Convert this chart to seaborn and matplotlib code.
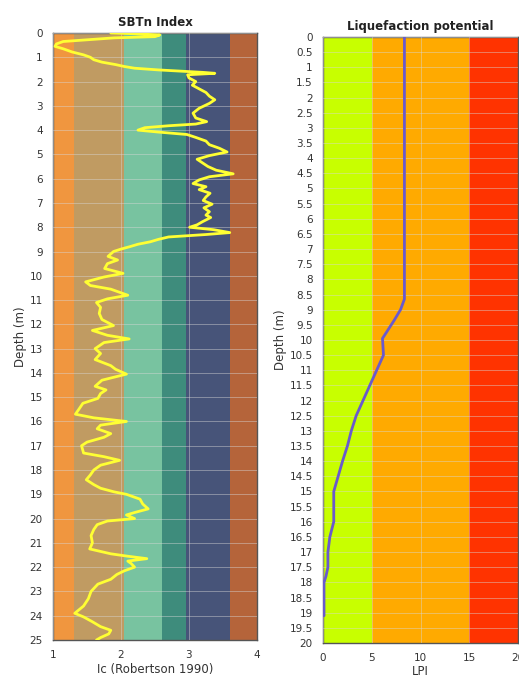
import numpy as np
import pandas as pd
import matplotlib
matplotlib.use("Agg")
import matplotlib.pyplot as plt
from matplotlib.ticker import MultipleLocator, FormatStrFormatter
import seaborn as sns

# SBTn index (Ic) profile
ic_depth = [0.0, 0.03, 0.08, 0.15, 0.2, 0.28, 0.35, 0.45, 0.55, 0.65, 0.78, 0.9, 1.0, 1.1, 1.2,
            1.3, 1.38, 1.45, 1.52, 1.58, 1.62, 1.66, 1.72, 1.85, 2.0, 2.15, 2.3, 2.45, 2.6, 2.75,
            2.9, 3.1, 3.3, 3.5, 3.65, 3.75, 3.82, 3.9, 4.0, 4.08, 4.18, 4.3, 4.45, 4.6, 4.75,
            4.9, 5.05, 5.2, 5.35, 5.5, 5.65, 5.8, 5.92, 6.05, 6.2, 6.33, 6.45, 6.6, 6.75, 6.9,
            7.05, 7.2, 7.36, 7.5, 7.6, 7.77, 7.9, 8.0, 8.1, 8.22, 8.3, 8.4, 8.5, 8.6, 8.7,
            8.8, 8.9, 9.0, 9.2, 9.35, 9.5, 9.7, 9.9, 10.05, 10.25, 10.4, 10.55, 10.8, 10.95, 11.1,
            11.3, 11.55, 11.8, 12.05, 12.25, 12.45, 12.6, 12.75, 13.0, 13.2, 13.45, 13.7, 13.85, 14.05, 14.3,
            14.55, 14.7, 14.85, 15.05, 15.25, 15.5, 15.7, 15.85, 16.0, 16.15, 16.3, 16.5, 16.65, 16.85, 17.0,
            17.3, 17.45, 17.6, 17.8, 18.0, 18.2, 18.4, 18.6, 18.75, 18.9, 19.0, 19.2, 19.4, 19.6, 19.75,
            19.85, 20.0, 20.1, 20.25, 20.45, 20.7, 21.0, 21.25, 21.45, 21.55, 21.65, 21.75, 21.85, 22.0, 22.15,
            22.3, 22.5, 22.7, 23.0, 23.3, 23.6, 23.9, 24.05, 24.25, 24.45, 24.6, 24.75, 24.9, 25.0]
ic_value = [1.85, 2.2, 2.57, 2.5, 1.9, 1.5, 1.15, 1.05, 1.03, 1.15, 1.28, 1.45, 1.55, 1.6, 1.72,
            1.92, 2.05, 2.2, 2.55, 2.95, 3.2, 3.38, 2.98, 3.0, 3.1, 3.05, 3.15, 3.25, 3.3, 3.38,
            3.3, 3.15, 3.06, 3.1, 3.26, 3.1, 2.7, 2.35, 2.25, 2.55, 2.97, 3.1, 3.25, 3.3, 3.45,
            3.56, 3.3, 3.12, 3.2, 3.28, 3.4, 3.65, 3.3, 3.15, 3.06, 3.25, 3.15, 3.31, 3.25, 3.21,
            3.34, 3.22, 3.3, 3.25, 3.32, 3.2, 3.12, 3.01, 3.36, 3.6, 3.25, 2.7, 2.55, 2.43, 2.25,
            2.13, 2.0, 1.89, 1.81, 1.95, 1.8, 1.76, 2.03, 1.75, 1.48, 1.55, 1.85, 2.1, 1.8, 1.64,
            1.7, 1.68, 1.72, 1.89, 1.58, 1.8, 2.12, 1.75, 1.62, 1.7, 1.62, 1.85, 1.92, 2.08, 1.72,
            1.62, 1.78, 1.7, 1.66, 1.44, 1.38, 1.33, 1.6, 2.08, 1.7, 1.65, 1.85, 1.75, 1.5, 1.42,
            1.45, 1.75, 1.98, 1.7, 1.6, 1.55, 1.49, 1.6, 1.7, 1.9, 2.08, 2.28, 2.32, 2.4, 2.2,
            2.08, 2.2, 1.8, 1.65, 1.6, 1.56, 1.58, 1.54, 1.85, 2.1, 2.38, 2.1, 2.15, 2.2, 2.05,
            1.94, 1.85, 1.66, 1.56, 1.52, 1.45, 1.32, 1.45, 1.58, 1.7, 1.85, 1.82, 1.7, 1.64]

# Liquefaction potential index profile
lpi_depth = [0.0, 8.65, 9.0, 9.35, 9.95, 10.5, 11.0, 11.5, 12.0, 12.5, 13.0, 13.5, 14.0, 14.5,
             15.0, 15.5, 16.0, 16.5, 17.0, 17.5, 17.8, 18.0, 19.0, 19.1]
lpi_value = [8.35, 8.35, 7.95, 7.3, 6.1, 6.2, 5.5, 4.8, 4.1, 3.4, 2.9, 2.5, 2.0, 1.55,
             1.1, 1.1, 1.1, 0.7, 0.5, 0.5, 0.3, 0.1, 0.1, 0.1]

# background zones
ic_bounds = [1.0, 1.31, 2.05, 2.60, 2.95, 3.60, 4.0]
ic_colors = ["#F0963F", "#C09B62", "#78C3A0", "#3E8C7C", "#475479", "#B5643A"]
lpi_bounds = [0, 5, 15, 20]
lpi_colors = ["#C8FF00", "#FFAA00", "#FF3300"]

sns.set_style("white")
plt.rcParams['font.family'] = ['DejaVu Sans']
text_col = "#333333"

fig = plt.figure(figsize=(5.19, 6.82), dpi=100)
ax1 = fig.add_axes([0.1021, 0.0616, 0.393, 0.89])
ax2 = fig.add_axes([0.6224, 0.0572, 0.3757, 0.8886])


def style_axis(ax):
    for s in ax.spines.values():
        s.set_color("#555555")
        s.set_linewidth(1.0)
    ax.tick_params(axis="both", which="both", direction="out", colors="#555555",
                   labelcolor=text_col, labelsize=7.5, length=4, width=0.9)
    ax.tick_params(axis="both", which="minor", length=2.5)
    ax.grid(True, which="major", color="#d8d8d8", linewidth=0.7, alpha=0.45)
    ax.set_axisbelow(False)


# left panel
for lo, hi, c in zip(ic_bounds[:-1], ic_bounds[1:], ic_colors):
    ax1.axvspan(lo, hi, color=c, lw=0, zorder=0)
sns.lineplot(x=ic_value, y=ic_depth, sort=False, estimator=None, color="#FFFF33",
             linewidth=2.0, ax=ax1, zorder=3)
ax1.set_xlim(1, 4)
ax1.set_ylim(25, 0)
ax1.xaxis.set_major_locator(MultipleLocator(1))
ax1.xaxis.set_minor_locator(MultipleLocator(0.25))
ax1.yaxis.set_major_locator(MultipleLocator(1))
style_axis(ax1)
ax1.set_title("SBTn Index", fontsize=8.5, fontweight="bold", color="#222222", pad=5)
ax1.set_xlabel("Ic (Robertson 1990)", fontsize=8.5, color=text_col, labelpad=2)
ax1.set_ylabel("Depth (m)", fontsize=8.5, color=text_col, labelpad=2)

# right panel
for lo, hi, c in zip(lpi_bounds[:-1], lpi_bounds[1:], lpi_colors):
    ax2.axvspan(lo, hi, color=c, lw=0, zorder=0)
sns.lineplot(x=lpi_value, y=lpi_depth, sort=False, estimator=None, color="#6A5ACD",
             linewidth=2.0, ax=ax2, zorder=3)
ax2.set_xlim(0, 20)
ax2.set_ylim(20, 0)
ax2.xaxis.set_major_locator(MultipleLocator(5))
ax2.xaxis.set_minor_locator(MultipleLocator(2.5))
ax2.yaxis.set_major_locator(MultipleLocator(0.5))
ax2.yaxis.set_major_formatter(plt.FuncFormatter(lambda v, p: f"{v:g}"))
style_axis(ax2)
ax2.set_title("Liquefaction potential", fontsize=8.5, fontweight="bold", color="#222222", pad=5)
ax2.set_xlabel("LPI", fontsize=8.5, color=text_col, labelpad=1)
ax2.set_ylabel("Depth (m)", fontsize=8.5, color=text_col, labelpad=2)

fig.savefig("out.png", dpi=100)
